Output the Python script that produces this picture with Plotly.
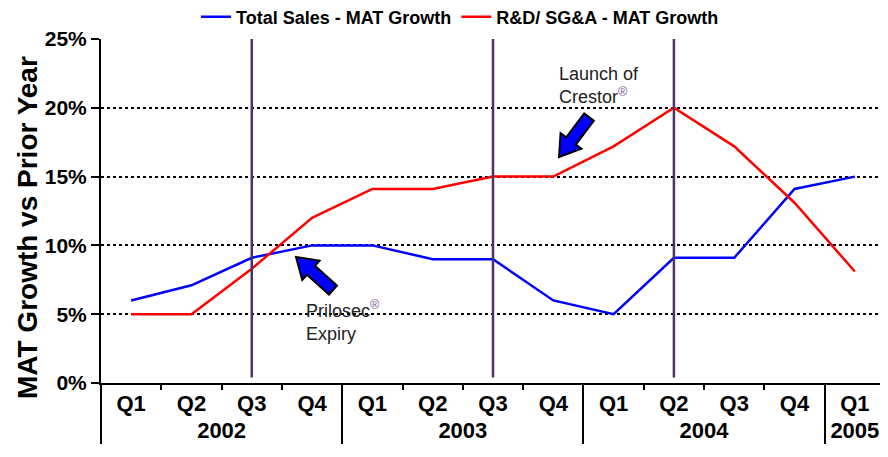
import math
import plotly.graph_objects as go

years = ["2002"] * 4 + ["2003"] * 4 + ["2004"] * 4 + ["2005"]
quarters = ["Q1", "Q2", "Q3", "Q4"] * 3 + ["Q1"]
total_sales = [6, 7.1, 9.1, 10, 10, 9, 9, 6, 5, 9.1, 9.1, 14.1, 15]
rnd_sga = [5, 5, 8.3, 12, 14.1, 14.1, 15, 15, 17.2, 20, 17.2, 13.1, 8.1]
event_years = ["2002", "2003", "2004"]
event_quarters = ["Q3", "Q3", "Q2"]

FONT = "Liberation Sans, Arial, sans-serif"
BLUE = "#0000FF"
RED = "#FF0000"
PURPLE = "#4B3366"

# page puts the figure 8px in from the window corner (body margin)
OFF = 8
W, H = 888, 457
# plot area as seen on screen
X0, X1, Y0, Y1 = 101, 885, 39, 383
PW, PH = X1 - X0, Y1 - Y0


def px(x):
    return (x - X0) / PW


def py(y):
    return (Y1 - y) / PH


fig = go.Figure()

fig.add_trace(go.Scatter(x=[years, quarters], y=total_sales, mode="lines",
    name="Total Sales - MAT Growth", line=dict(color=BLUE, width=2.5)))
fig.add_trace(go.Scatter(x=[years, quarters], y=rnd_sga, mode="lines",
    name="R&D/ SG&A - MAT Growth", line=dict(color=RED, width=2.5)))

# event marker lines (drawn as traces so they sit on the category axis)
for yr, q in zip(event_years, event_quarters):
    fig.add_trace(go.Scatter(x=[[yr, yr], [q, q]], y=[0.4, 25], mode="lines",
        line=dict(color=PURPLE, width=2.5), showlegend=False, hoverinfo="skip"))


def block_arrow(tip, tail, shaft_w=12, head_w=26, head_len=20):
    """Outlined block arrow, given in screen pixels, added as a paper-ref path."""
    tx, ty = tip
    dx, dy = tail[0] - tx, tail[1] - ty
    n = math.hypot(dx, dy)
    ux, uy = dx / n, dy / n
    nx, ny = -uy, ux
    bx, by = tx + ux * head_len, ty + uy * head_len
    pts = [
        (tx, ty),
        (bx + nx * head_w / 2, by + ny * head_w / 2),
        (bx + nx * shaft_w / 2, by + ny * shaft_w / 2),
        (tail[0] + nx * shaft_w / 2, tail[1] + ny * shaft_w / 2),
        (tail[0] - nx * shaft_w / 2, tail[1] - ny * shaft_w / 2),
        (bx - nx * shaft_w / 2, by - ny * shaft_w / 2),
        (bx - nx * head_w / 2, by - ny * head_w / 2),
    ]
    path = "M " + " L ".join(f"{px(x):.4f},{py(y):.4f}" for x, y in pts) + " Z"
    fig.add_shape(type="path", path=path, xref="paper", yref="paper",
        fillcolor=BLUE, line=dict(color="black", width=2))


block_arrow((296, 257), (333, 290))   # Prilosec expiry
block_arrow((559, 157), (589, 117))   # Crestor launch

fig.add_annotation(x=px(304), y=py(296), xref="paper", yref="paper",
    text="Prilosec<sup><span style='color:#7a5a9a'>®</span></sup><br>Expiry",
    showarrow=False, xanchor="left", yanchor="top", align="left",
    font=dict(family=FONT, size=18, color="#222222"))
fig.add_annotation(x=px(557), y=py(62), xref="paper", yref="paper",
    text="Launch of<br>Crestor<sup><span style='color:#7a5a9a'>®</span></sup>",
    showarrow=False, xanchor="left", yanchor="top", align="left",
    font=dict(family=FONT, size=18, color="#222222"))

# y title placed by hand (it sits a little below the plot's middle)
fig.add_annotation(x=px(27), y=py(228), xref="paper", yref="paper",
    text="MAT Growth vs Prior Year", textangle=-90, showarrow=False,
    xanchor="center", yanchor="middle",
    font=dict(family=FONT, size=28, color="black", weight="bold"))

fig.update_layout(
    width=W, height=H,
    paper_bgcolor="white", plot_bgcolor="white",
    font=dict(family=FONT, color="black"),
    margin=dict(l=X0 - OFF, r=W - (X1 - OFF), t=Y0 - OFF, b=H - (Y1 - OFF),
        autoexpand=False),
    showlegend=True,
    legend=dict(orientation="h", x=px(460), xanchor="center",
        y=py(17), yanchor="middle",
        font=dict(family=FONT, size=18, color="black", weight="bold"),
        itemwidth=30, tracegroupgap=0),
    xaxis=dict(type="multicategory", range=[-0.5, 12.5], showline=True,
        linecolor="black", linewidth=2, showgrid=False, automargin=False,
        ticks="outside", tickwidth=2, tickcolor="black",
        showdividers=True, dividercolor="black", dividerwidth=2,
        tickfont=dict(family=FONT, size=22, color="black", weight="bold")),
    yaxis=dict(range=[0, 25], dtick=5, ticksuffix="%", showline=True, linecolor="black",
        linewidth=2, ticks="outside", ticklen=8, tickwidth=2, tickcolor="black",
        showgrid=True, gridcolor="black", griddash="dot", gridwidth=1.5,
        zeroline=False, automargin=False,
        tickfont=dict(family=FONT, size=21, color="black", weight="bold")),
)

fig.write_html("out.html")
